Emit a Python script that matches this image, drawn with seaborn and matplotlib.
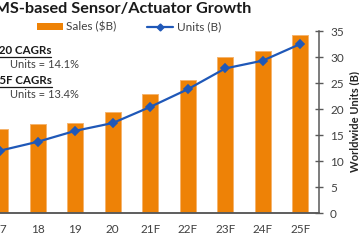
import matplotlib
matplotlib.use("Agg")
import matplotlib.pyplot as plt
import seaborn as sns
import numpy as np
from matplotlib.patches import Patch
from matplotlib.lines import Line2D

categories = ["17", "18", "19", "20", "21F", "22F", "23F", "24F", "25F"]
sales = [9.75, 10.3, 10.4, 11.7, 13.7, 15.4, 18.0, 18.7, 20.5]
units = [12.0, 13.7, 15.8, 17.3, 20.4, 23.8, 27.8, 29.3, 32.5]
units_ticks = [0, 5, 10, 15, 20, 25, 30, 35]

ORANGE = "#EE8206"
BLUE = "#1F58B8"
AXIS = "#595959"
TXT = "#404040"

sns.set_style("white")
plt.rcParams["font.family"] = ["Lato", "DejaVu Sans"]

W, H = 359, 250
fig = plt.figure(figsize=(W / 100, H / 100), dpi=100)
left_px, right_px, bottom_px, top_px = -18.5, 319, 213, 31
ax = fig.add_axes([left_px / W, 1 - bottom_px / H,
                   (right_px - left_px) / W, (bottom_px - top_px) / H])

sns.barplot(x=categories, y=sales, color=ORANGE, saturation=1, width=0.43,
            edgecolor="#F5B46E", linewidth=0.7, ax=ax)
ax.set_ylim(0, 21)
ax.set_yticks([])
ax.set_xlim(-0.5, len(categories) - 0.5)

ax2 = ax.twinx()
sns.pointplot(x=categories, y=units, color=BLUE, markers="D", ax=ax2,
              markersize=4.5, linewidth=1.6)
ax2.set_ylim(0, 35)
ax2.set_xlim(-0.5, len(categories) - 0.5)
ax2.set_yticks(units_ticks)
ax2.set_ylabel("Worldwide Units (B)", fontsize=8, fontweight="bold",
               color="#262626", labelpad=4)

for a in (ax, ax2):
    for s in ("top", "left"):
        a.spines[s].set_visible(False)
    a.spines["bottom"].set_color(AXIS)
    a.spines["bottom"].set_linewidth(1.1)
    a.spines["right"].set_visible(False)
    a.set_xlabel("")
ax2.spines["right"].set_visible(True)
ax2.spines["right"].set_color(AXIS)
ax2.spines["right"].set_linewidth(1.1)

ax.set_xticks(range(len(categories)))
ax.set_xticklabels(categories)
ax.set_xticks(np.arange(0.5, len(categories) - 0.5), minor=True)
ax.tick_params(axis="x", which="major", length=0, pad=8, labelsize=8.5,
               labelcolor=TXT)
ax.tick_params(axis="x", which="minor", direction="inout", length=6,
               width=1, color=AXIS)
ax2.tick_params(axis="y", direction="inout", length=6, width=1, color=AXIS,
                labelsize=8.5, labelcolor=TXT, pad=5)
ax2.tick_params(axis="x", length=0, labelbottom=False)

# legend
handles = [Patch(facecolor=ORANGE, edgecolor="none", label="Sales ($B)"),
           Line2D([0], [0], color=BLUE, marker="D", markersize=3.5,
                  linewidth=1.6, label="Units (B)")]
fig.legend(handles=handles, loc="center left",
           bbox_to_anchor=(26 / W, 1 - 27 / H), ncol=2, frameon=False,
           fontsize=8.5, handlelength=2.2, handleheight=0.6,
           columnspacing=2.6, handletextpad=0.3, labelcolor=TXT)

# title
fig.text(251 / W, 1 - 9 / H, "MEMS-based Sensor/Actuator Growth",
         ha="right", va="center", fontsize=11.7, fontweight="bold",
         color="#1a1a1a")

# CAGR notes
def header(x_right, y, s):
    t = fig.text(x_right / W, 1 - y / H, s, ha="right", va="center",
                 fontsize=8.3, fontweight="bold", color="#1a1a1a")
    fig.canvas.draw()
    bb = t.get_window_extent()
    yl = bb.y0 - 1
    fig.add_artist(Line2D([bb.x0 / W, bb.x1 / W], [yl / H, yl / H],
                          transform=fig.transFigure, color="#1a1a1a",
                          linewidth=0.9))

header(51, 50, "2017-20 CAGRs")
fig.text(10 / W, 1 - 64 / H, "Units = 14.1%", ha="left", va="center",
         fontsize=8, color=TXT)
header(52, 80, "2020-25F CAGRs")
fig.text(10 / W, 1 - 94 / H, "Units = 13.4%", ha="left", va="center",
         fontsize=8, color=TXT)

fig.savefig("out.png", dpi=100)
